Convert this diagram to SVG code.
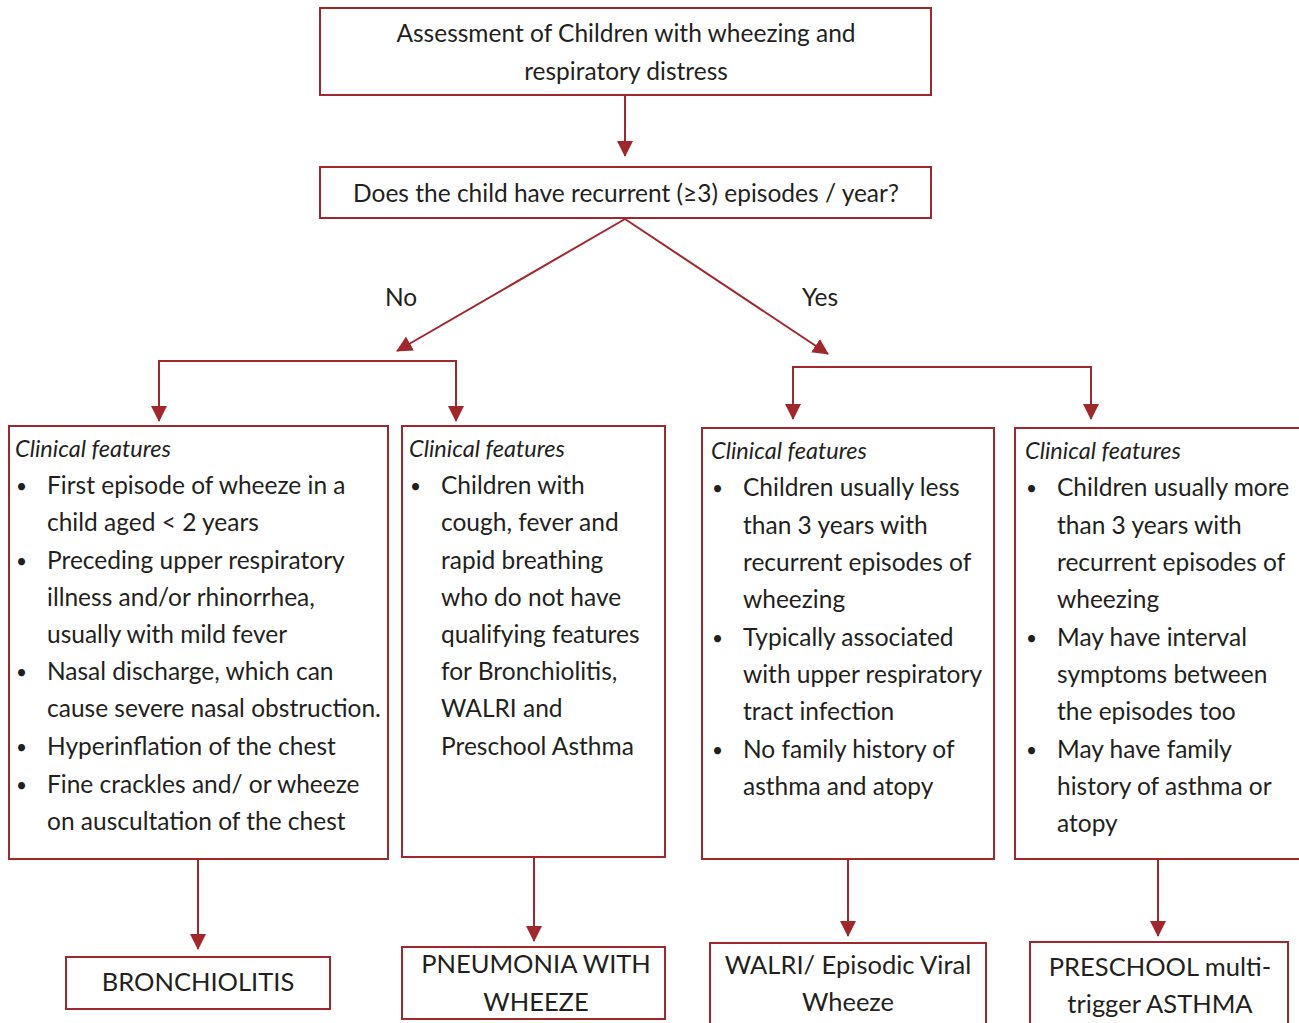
<svg xmlns="http://www.w3.org/2000/svg" width="1299" height="1023" viewBox="0 0 1299 1023">
<defs>
<style>
.box{fill:#fff;stroke:#a0282d;stroke-width:2}
.ln{fill:none;stroke:#a0282d;stroke-width:2}
text{font-family:Lato,"Open Sans","Liberation Sans",sans-serif;fill:#231f20;font-size:24.5px}
.c{text-anchor:middle}
.it{font-style:italic;font-size:23.5px}
.b{font-size:19px}
.big{font-size:25.5px}
</style>
<marker id="ah" markerUnits="userSpaceOnUse" markerWidth="16" markerHeight="16" viewBox="0 0 16 16" refX="15" refY="8" orient="auto">
<path d="M0,0 L16,8 L0,16 Z" fill="#a0282d"/>
</marker>
</defs>
<rect width="1299" height="1023" fill="#fff"/>
<g id="connectors">
<line class="ln" x1="625" y1="95" x2="625" y2="156" marker-end="url(#ah)"/>
<line class="ln" x1="625" y1="219" x2="397" y2="351" marker-end="url(#ah)"/>
<line class="ln" x1="625" y1="219" x2="828" y2="354" marker-end="url(#ah)"/>
<polyline class="ln" points="159,421 159,361 456,361 456,421" marker-end="url(#ah)"/>
<line class="ln" x1="159" y1="361" x2="159" y2="421" marker-end="url(#ah)"/>
<polyline class="ln" points="793,419 793,367 1091,367 1091,419" marker-end="url(#ah)"/>
<line class="ln" x1="793" y1="367" x2="793" y2="419" marker-end="url(#ah)"/>
<line class="ln" x1="198" y1="859" x2="198" y2="949" marker-end="url(#ah)"/>
<line class="ln" x1="534" y1="857" x2="534" y2="941" marker-end="url(#ah)"/>
<line class="ln" x1="848" y1="859" x2="848" y2="936" marker-end="url(#ah)"/>
<line class="ln" x1="1158" y1="859" x2="1158" y2="936" marker-end="url(#ah)"/>
<text x="401" y="306" class="c">No</text>
<text x="820" y="306" class="c">Yes</text>
</g>
<g id="start">
<rect class="box" x="320" y="8" width="611" height="87"/>
<text x="626" y="42" class="c">Assessment of Children with wheezing and</text>
<text x="626" y="80" class="c">respiratory distress</text>
</g>
<g id="question">
<rect class="box" x="320" y="167" width="611" height="51"/>
<text x="626" y="202" class="c">Does the child have recurrent (≥3) episodes / year?</text>
</g>
<g id="features1">
<rect class="box" x="9" y="426" width="379" height="433"/>
<text x="15" y="457" class="it">Clinical features</text>
<text x="16" y="493" class="b">•</text><text x="47" y="494">First episode of wheeze in a</text>
<text x="47" y="531">child aged &lt; 2 years</text>
<text x="16" y="568" class="b">•</text><text x="47" y="569">Preceding upper respiratory</text>
<text x="47" y="606">illness and/or rhinorrhea,</text>
<text x="47" y="643">usually with mild fever</text>
<text x="16" y="679" class="b">•</text><text x="47" y="680">Nasal discharge, which can</text>
<text x="47" y="717">cause severe nasal obstruction.</text>
<text x="16" y="754" class="b">•</text><text x="47" y="755">Hyperinflation of the chest</text>
<text x="16" y="792" class="b">•</text><text x="47" y="793">Fine crackles and/ or wheeze</text>
<text x="47" y="830">on auscultation of the chest</text>
</g>
<g id="features2">
<rect class="box" x="402" y="426" width="263" height="431"/>
<text x="409" y="457" class="it">Clinical features</text>
<text x="410" y="493" class="b">•</text><text x="441" y="494">Children with</text>
<text x="441" y="531">cough, fever and</text>
<text x="441" y="569">rapid breathing</text>
<text x="441" y="606">who do not have</text>
<text x="441" y="643">qualifying features</text>
<text x="441" y="680">for Bronchiolitis,</text>
<text x="441" y="717">WALRI and</text>
<text x="441" y="755">Preschool Asthma</text>
</g>
<g id="features3">
<rect class="box" x="702" y="428" width="292" height="431"/>
<text x="711" y="459" class="it">Clinical features</text>
<text x="712" y="495" class="b">•</text><text x="743" y="496">Children usually less</text>
<text x="743" y="534">than 3 years with</text>
<text x="743" y="571">recurrent episodes of</text>
<text x="743" y="608">wheezing</text>
<text x="712" y="645" class="b">•</text><text x="743" y="646">Typically associated</text>
<text x="743" y="683">with upper respiratory</text>
<text x="743" y="720">tract infection</text>
<text x="712" y="757" class="b">•</text><text x="743" y="758">No family history of</text>
<text x="743" y="795">asthma and atopy</text>
</g>
<g id="features4">
<rect class="box" x="1015" y="428" width="300" height="431"/>
<text x="1025" y="459" class="it">Clinical features</text>
<text x="1026" y="495" class="b">•</text><text x="1057" y="496">Children usually more</text>
<text x="1057" y="534">than 3 years with</text>
<text x="1057" y="571">recurrent episodes of</text>
<text x="1057" y="608">wheezing</text>
<text x="1026" y="645" class="b">•</text><text x="1057" y="646">May have interval</text>
<text x="1057" y="683">symptoms between</text>
<text x="1057" y="720">the episodes too</text>
<text x="1026" y="757" class="b">•</text><text x="1057" y="758">May have family</text>
<text x="1057" y="795">history of asthma or</text>
<text x="1057" y="832">atopy</text>
</g>
<g id="bronchiolitis">
<rect class="box" x="66" y="957" width="264" height="52"/>
<text x="198" y="991" class="c big">BRONCHIOLITIS</text>
</g>
<g id="pneumonia">
<rect class="box" x="402" y="947" width="263" height="72"/>
<text x="536" y="973" class="c big">PNEUMONIA WITH</text>
<text x="536" y="1011" class="c big">WHEEZE</text>
</g>
<g id="walri">
<rect class="box" x="710" y="943" width="276" height="90"/>
<text x="848" y="974" class="c big">WALRI/ Episodic Viral</text>
<text x="848" y="1011" class="c big">Wheeze</text>
</g>
<g id="preschool">
<rect class="box" x="1030" y="942" width="258" height="90"/>
<text x="1160" y="976" class="c big">PRESCHOOL multi-</text>
<text x="1160" y="1013" class="c big">trigger ASTHMA</text>
</g>
</svg>
